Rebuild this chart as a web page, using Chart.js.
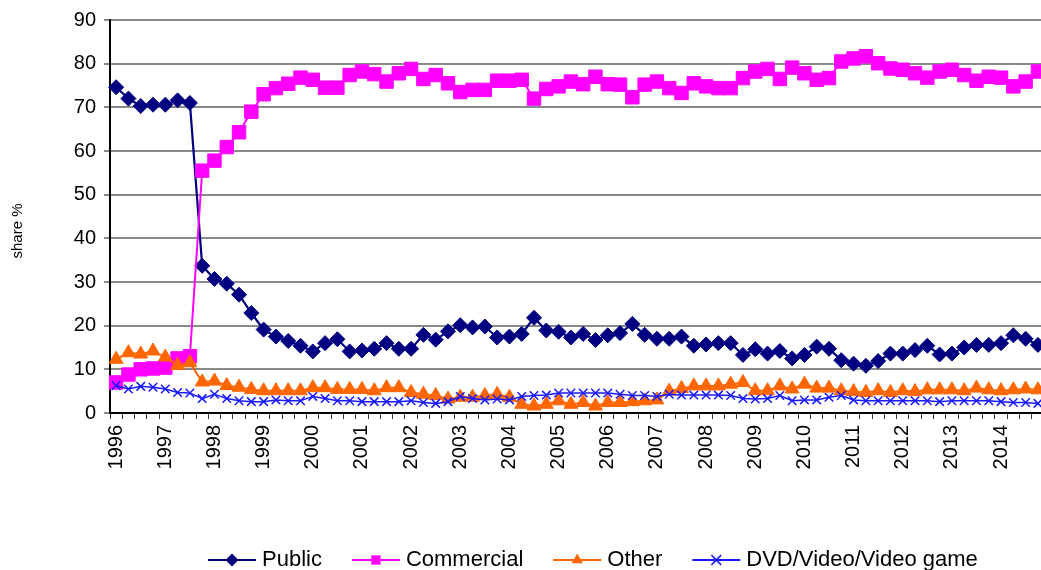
<!DOCTYPE html>
<html>
<head>
<meta charset="utf-8">
<title>share %</title>
<script src="https://cdn.jsdelivr.net/npm/chart.js@4.4.1/dist/chart.umd.min.js"></script>
<style>
  html, body { margin: 0; padding: 0; background: #fff; overflow: hidden; }
  #wrap { width: 1068px; height: 570px; position: relative; }
</style>
</head>
<body>
<div id="wrap"><canvas id="chart"></canvas></div>
<script>
// quarterly data, 1996 Q1 .. 2014 Q4 (one row per year)
const years = ['1996','1997','1998','1999','2000','2001','2002','2003','2004','2005',
               '2006','2007','2008','2009','2010','2011','2012','2013','2014'];
const quarters = ['Q1','Q2','Q3','Q4'];
const yTicks = [0, 10, 20, 30, 40, 50, 60, 70, 80, 90];
const yTitle = 'share %';

const seriesNames = ['Public', 'Commercial', 'Other', 'DVD/Video/Video game'];

const publicShare = [
  74.6, 72.0, 70.3, 70.6,
  70.6, 71.6, 71.0, 33.7,
  30.7, 29.6, 27.1, 22.9,
  19.1, 17.5, 16.5, 15.4,
  14.1, 16.0, 16.9, 14.1,
  14.3, 14.7, 16.0, 14.7,
  14.7, 17.9, 16.8, 18.7,
  20.1, 19.6, 19.8, 17.3,
  17.5, 18.1, 21.8, 18.9,
  18.6, 17.3, 18.1, 16.7,
  17.8, 18.3, 20.4, 17.9,
  17.0, 17.0, 17.5, 15.4,
  15.7, 16.0, 16.0, 13.3,
  14.6, 13.6, 14.2, 12.5,
  13.3, 15.2, 14.7, 12.1,
  11.3, 10.8, 11.9, 13.6,
  13.6, 14.4, 15.4, 13.4,
  13.6, 15.0, 15.6, 15.6,
  16.0, 17.8, 17.0, 15.6
];
const commercialShare = [
   7.0,  8.8, 10.0, 10.2,
  10.4, 12.5, 13.0, 55.5,
  57.8, 60.9, 64.3, 69.0,
  73.0, 74.4, 75.4, 76.8,
  76.3, 74.5, 74.5, 77.4,
  78.2, 77.6, 75.9, 77.8,
  78.8, 76.5, 77.4, 75.5,
  73.5, 74.0, 74.0, 76.1,
  76.1, 76.3, 72.0, 74.2,
  74.8, 75.9, 75.3, 77.0,
  75.3, 75.2, 72.3, 75.2,
  75.9, 74.4, 73.3, 75.5,
  74.8, 74.4, 74.4, 76.7,
  78.2, 78.8, 76.5, 79.1,
  77.8, 76.3, 76.7, 80.5,
  81.2, 81.7, 80.1, 78.9,
  78.6, 77.8, 76.8, 78.2,
  78.6, 77.4, 76.1, 77.0,
  76.8, 74.8, 75.9, 78.2
];
const otherShare = [
  12.3, 13.8, 13.5, 14.2,
  12.8, 10.9, 11.5,  7.1,
   7.3,  6.3,  5.9,  5.4,
   5.1,  5.1,  5.1,  5.1,
   5.8,  5.8,  5.4,  5.4,
   5.4,  5.1,  5.8,  5.8,
   4.7,  4.3,  4.0,  3.2,
   3.6,  3.6,  4.0,  4.3,
   3.6,  2.0,  1.6,  2.0,
   2.8,  2.0,  2.4,  1.6,
   2.4,  2.4,  2.6,  2.8,
   3.0,  5.0,  5.6,  6.2,
   6.2,  6.2,  6.6,  7.0,
   5.1,  5.1,  6.2,  5.5,
   6.6,  5.7,  5.7,  5.1,
   4.9,  4.7,  5.1,  4.7,
   5.1,  4.9,  5.3,  5.3,
   5.3,  5.1,  5.7,  5.3,
   5.1,  5.3,  5.5,  5.3
];
const dvdShare = [
  6.3, 5.5, 6.1, 5.9,
  5.5, 4.7, 4.6, 3.3,
  4.3, 3.3, 2.8, 2.6,
  2.6, 3.0, 2.8, 2.8,
  3.8, 3.3, 2.8, 2.8,
  2.6, 2.6, 2.6, 2.6,
  2.8, 2.4, 2.2, 2.6,
  3.8, 3.3, 3.0, 3.2,
  3.0, 3.8, 4.0, 4.1,
  4.6, 4.6, 4.6, 4.6,
  4.6, 4.3, 4.0, 4.0,
  3.8, 4.3, 4.1, 4.1,
  4.1, 4.1, 4.0, 3.3,
  3.2, 3.3, 4.0, 2.8,
  3.0, 3.0, 3.6, 4.0,
  3.0, 2.8, 2.8, 2.8,
  2.8, 2.8, 2.8, 2.6,
  2.8, 2.8, 2.8, 2.8,
  2.6, 2.4, 2.4, 2.2
];

// category list: "1996 Q1", "1996 Q2", ...
const categories = [];
years.forEach(y => quarters.forEach(q => categories.push(y + ' ' + q)));

Chart.defaults.font.family = '"Liberation Sans", Arial, sans-serif';
Chart.defaults.color = '#000';

// small marker painter, used for the hand drawn legend
function paintMarker(ctx, style, x, y, r, color){
  ctx.fillStyle = color; ctx.strokeStyle = color; ctx.lineWidth = 1.5;
  ctx.beginPath();
  if (style === 'rectRot') {
    ctx.moveTo(x, y - r); ctx.lineTo(x + r, y); ctx.lineTo(x, y + r); ctx.lineTo(x - r, y); ctx.closePath(); ctx.fill();
  } else if (style === 'rect') {
    const s = r * 0.72; ctx.rect(x - s, y - s, 2 * s, 2 * s); ctx.fill();
  } else if (style === 'triangle') {
    ctx.moveTo(x, y - r); ctx.lineTo(x + r * 0.87, y + r * 0.5); ctx.lineTo(x - r * 0.87, y + r * 0.5); ctx.closePath(); ctx.fill();
  } else {
    const s = r * 0.75;
    ctx.moveTo(x - s, y - s); ctx.lineTo(x + s, y + s); ctx.moveTo(x + s, y - s); ctx.lineTo(x - s, y + s); ctx.stroke();
  }
}

// Excel-like legend at the bottom and the rotated y title
const decorPlugin = {
  id: 'decor',
  afterDraw(chart){
    const ctx = chart.ctx;
    ctx.save();
    // y axis title
    ctx.font = '15px "Liberation Sans", Arial, sans-serif';
    ctx.fillStyle = '#000';
    ctx.textAlign = 'center'; ctx.textBaseline = 'middle';
    ctx.translate(18, 231); ctx.rotate(-Math.PI / 2);
    ctx.fillText(yTitle, 0, 0);
    ctx.restore();

    ctx.save();
    ctx.font = '22px "Liberation Sans", Arial, sans-serif';
    ctx.textBaseline = 'middle'; ctx.textAlign = 'left';
    const symW = 48, gapText = 6, gapItem = 30, ly = 560;
    let x = 208;
    chart.data.datasets.forEach(ds => {
      ctx.strokeStyle = ds.borderColor; ctx.lineWidth = 2;
      ctx.beginPath(); ctx.moveTo(x, ly); ctx.lineTo(x + symW, ly); ctx.stroke();
      paintMarker(ctx, ds.pointStyle, x + symW / 2, ly, 6.5, ds.borderColor);
      ctx.fillStyle = '#000';
      ctx.fillText(ds.label, x + symW + gapText, ly);
      x += symW + gapText + ctx.measureText(ds.label).width + gapItem;
    });
    ctx.restore();
  }
};

const ctx = document.getElementById('chart').getContext('2d');
new Chart(ctx, {
  type: 'line',
  data: {
    labels: categories,
    datasets: [
      { label: seriesNames[0], data: publicShare, borderColor: '#000080', backgroundColor: '#000080',
        borderWidth: 2.2, pointStyle: 'rectRot', pointRadius: 7.5, pointBorderWidth: 1, order: 4 },
      { label: seriesNames[1], data: commercialShare, borderColor: '#FF00FF', backgroundColor: '#FF00FF',
        borderWidth: 2, pointStyle: 'rect', pointRadius: 9.5, pointBorderWidth: 1, order: 3 },
      { label: seriesNames[2], data: otherShare, borderColor: '#FF6600', backgroundColor: '#FF6600',
        borderWidth: 2, pointStyle: 'triangle', pointRadius: 8, pointBorderWidth: 1, order: 2 },
      { label: seriesNames[3], data: dvdShare, borderColor: '#1a1aff', backgroundColor: '#1a1aff',
        borderWidth: 1.5, pointStyle: 'crossRot', pointRadius: 6, pointBorderWidth: 1.5, order: 1 }
    ]
  },
  options: {
    responsive: true,
    maintainAspectRatio: false,
    animation: false,
    layout: { padding: { top: 10, right: 4, left: 0, bottom: 0 } },
    plugins: { legend: { display: false }, tooltip: { enabled: false } },
    elements: { line: { tension: 0 } },
    scales: {
      x: {
        offset: true,
        grid: { offset: true, drawOnChartArea: false, drawTicks: true, tickLength: 6, color: '#333', lineWidth: 1 },
        border: { display: true, color: '#000', width: 2 },
        ticks: {
          autoSkip: false, maxRotation: 90, minRotation: 90, padding: 6,
          font: { size: 20 }, color: '#000',
          callback: (v, i) => (i % 4 === 0 ? years[i / 4] : '')
        },
        afterFit: s => { s.height = 157; }
      },
      y: {
        min: 0, max: 90,
        afterBuildTicks: s => { s.ticks = yTicks.map(v => ({ value: v })); },
        grid: { color: '#8a8a8a', lineWidth: 2, tickLength: 6, drawTicks: true },
        border: { display: true, color: '#000', width: 2 },
        ticks: { padding: 8, font: { size: 20 }, color: '#000' },
        afterFit: s => { s.width = 110; }
      }
    }
  },
  plugins: [decorPlugin]
});
</script>
</body>
</html>
